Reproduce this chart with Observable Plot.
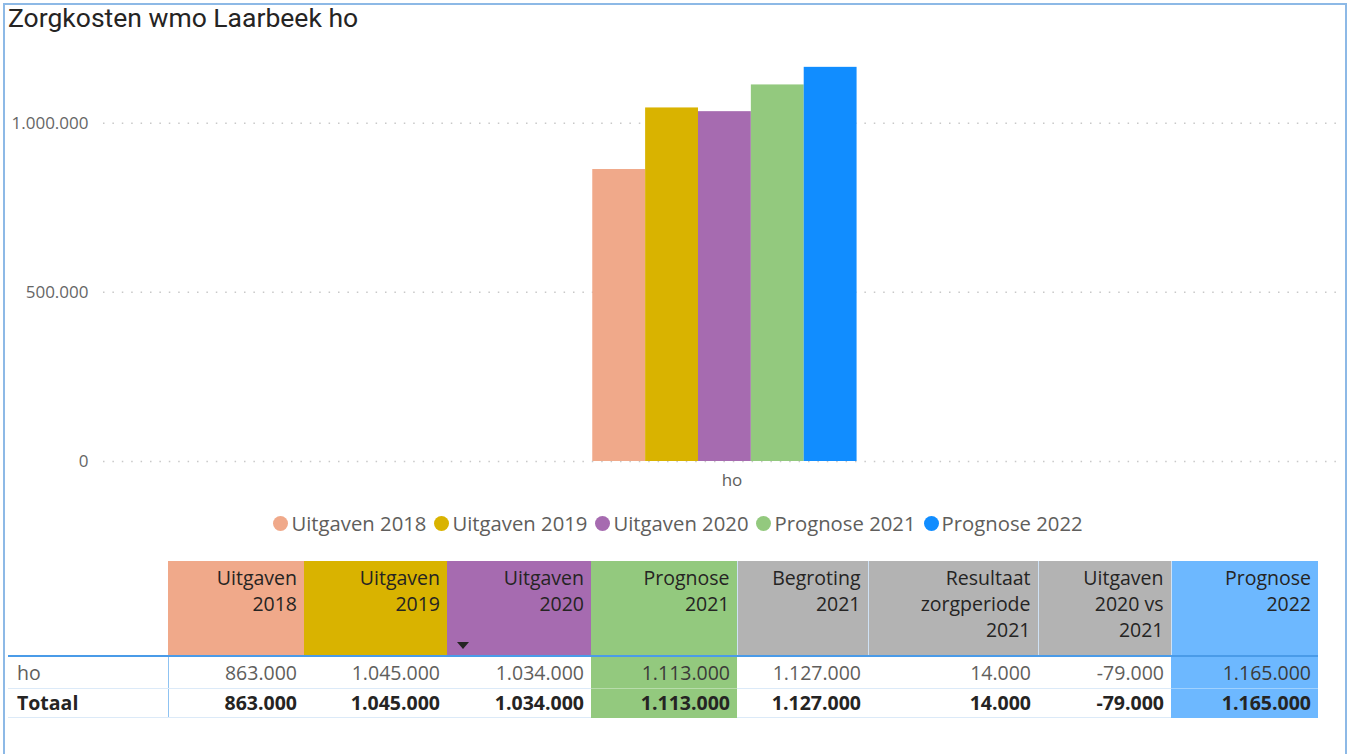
<!DOCTYPE html>
<html>
<head>
<meta charset="utf-8">
<script src="https://cdn.jsdelivr.net/npm/d3@7"></script>
<script src="https://cdn.jsdelivr.net/npm/@observablehq/plot@0.6"></script>
<style>
  html, body { margin: 0; padding: 0; background: #fff; }
  body { width: 1348px; height: 754px; overflow: hidden; position: relative; font-family: "Open Sans", sans-serif; }
  #frame { position: absolute; left: 3px; top: 3px; width: 1344px; height: 780px; border: 2px solid #8DB9E6; box-sizing: border-box; pointer-events: none; }
  #title { position: absolute; left: 8px; top: 2px; font-family: Roboto, sans-serif; font-size: 26.5px; color: #252423; white-space: nowrap; }
  #chart { position: absolute; left: 0; top: 40px; }
  #legend { position: absolute; left: 4px; width: 1348px; top: 510px; height: 26px; display: flex; justify-content: center; align-items: center; font-size: 20.3px; color: #605E5C; white-space: nowrap; }
  #legend .item { display: flex; align-items: center; margin: 0 4px; }
  #legend .dot { width: 15px; height: 15px; border-radius: 50%; margin-right: 3px; }
  #tbl { position: absolute; left: 8px; top: 561px; border-collapse: collapse; table-layout: fixed; font-size: 19.5px; line-height: 26px; }
  #tbl th, #tbl td { padding: 0 7px 0 0; text-align: right; white-space: nowrap; overflow: visible; }
  #tbl th { height: 95px; vertical-align: top; padding-top: 4px; font-weight: normal; color: #252423; border-bottom: 2px solid #4A9BE8; position: relative; box-sizing: border-box; }
  #tbl td { color: #605E5C; }
  #tbl tr.r1 td { height: 30px; padding-top: 1px; border-bottom: 1px solid #DCEAF8; }
  #tbl tr.r2 td { height: 28px; border-bottom: 1px solid #DCEAF8; font-weight: bold; color: #252423; }
  #tbl td.rowhead { text-align: left; padding-left: 9px; border-right: 1px solid #8FC3F2; }
  #tbl tr.r1 td.colored { color: #3B3A39; }
  .sortarrow { position: absolute; left: 10px; bottom: 6px; width: 0; height: 0; border-left: 6px solid transparent; border-right: 6px solid transparent; border-top: 7px solid #252423; }
</style>
</head>
<body>
<div id="title"></div>
<div id="chart"></div>
<div id="legend"></div>
<table id="tbl"></table>
<div id="frame"></div>
<script>
// ---- Data ----
const chartTitle = "Zorgkosten wmo Laarbeek ho";
const categories = ["ho"];
const series = ["Uitgaven 2018", "Uitgaven 2019", "Uitgaven 2020", "Prognose 2021", "Prognose 2022"];
const seriesValues = [863000, 1045000, 1034000, 1113000, 1165000];
const seriesColors = ["#F0A98A", "#D9B300", "#A66BB0", "#93C97E", "#118DFF"];
const yTicks = [0, 500000, 1000000];

const tableHeaders = [["Uitgaven", "2018"], ["Uitgaven", "2019"], ["Uitgaven", "2020"], ["Prognose", "2021"], ["Begroting", "2021"], ["Resultaat", "zorgperiode", "2021"], ["Uitgaven", "2020 vs", "2021"], ["Prognose", "2022"]];
const tableHeaderColors = ["#F0A98A", "#D9B300", "#A66BB0", "#93C97E", "#B3B3B3", "#B3B3B3", "#B3B3B3", "#6DB8FF"];
const tableCellColors = [null, null, null, "#93C97E", null, null, null, "#6DB8FF"];
const tableRowLabels = ["ho", "Totaal"];
const tableRowHo = [863000, 1045000, 1034000, 1113000, 1127000, 14000, -79000, 1165000];
const tableRowTotaal = [863000, 1045000, 1034000, 1113000, 1127000, 14000, -79000, 1165000];
const tableColWidths = [160, 136, 143, 144, 146, 131, 170, 133, 147];

// ---- Formatting ----
const nl = d3.formatLocale({decimal: ",", thousands: ".", grouping: [3], currency: ["€", ""], minus: "-"});
const fmt = nl.format(",d");

// ---- Title ----
document.getElementById("title").textContent = chartTitle;

// ---- Chart ----
const data = series.map((s, i) => ({category: categories[0], series: s, value: seriesValues[i]}));
const chart = Plot.plot({
  width: 1348,
  height: 470,
  marginTop: 15,
  marginBottom: 49,
  marginLeft: 103,
  marginRight: 8,
  style: {fontFamily: "Open Sans, sans-serif", fontSize: "17px", color: "#666666", background: "transparent"},
  x: {domain: series, paddingInner: 0, paddingOuter: 9.2, align: 0.503, round: false, axis: null},
  y: {domain: [0, 1200000], axis: null},
  color: {domain: series, range: seriesColors},
  marks: [
    Plot.ruleY(yTicks, {stroke: "#C8C8C8", strokeWidth: 1.5, strokeDasharray: "1.5,7.9"}),
    Plot.barY(data, {x: "series", y: "value", fill: "series"}),
    Plot.axisY(yTicks, {tickSize: 0, tickPadding: 15, tickFormat: fmt, fill: "#666666", fontSize: 17, label: null}),
    Plot.text(categories, {frameAnchor: "bottom", text: d => d, dx: 10, dy: 19, lineAnchor: "middle", fill: "#605E5C", fontSize: 17})
  ]
});
document.getElementById("chart").appendChild(chart);

// ---- Legend ----
const legend = d3.select("#legend");
series.forEach((s, i) => {
  const it = legend.append("div").attr("class", "item");
  it.append("div").attr("class", "dot").style("background", seriesColors[i]);
  it.append("span").text(s);
});

// ---- Table ----
const tbl = d3.select("#tbl");
const cg = tbl.append("colgroup");
tableColWidths.forEach(w => cg.append("col").style("width", w + "px"));
tbl.style("width", d3.sum(tableColWidths) + "px");
const hr = tbl.append("tr");
hr.append("th").style("background", "#fff");
tableHeaders.forEach((lines, i) => {
  const th = hr.append("th").style("background", tableHeaderColors[i])
    .style("border-left", i >= 4 ? "1px solid #CFE2F5" : null);
  th.html(lines.map(l => l.replace(/&/g, "&amp;")).join("<br>"));
  if (i === 2) th.append("span").attr("class", "sortarrow");
});
[tableRowHo, tableRowTotaal].forEach((row, r) => {
  const tr = tbl.append("tr").attr("class", r === 0 ? "r1" : "r2");
  tr.append("td").attr("class", "rowhead").text(tableRowLabels[r]);
  row.forEach((v, i) => {
    const td = tr.append("td").text(fmt(v));
    if (tableCellColors[i]) {
      td.classed("colored", true).style("background", tableCellColors[i]).style("border-bottom-color", "rgba(255,255,255,0.35)");
      if (r === 1) td.style("border-bottom-color", tableCellColors[i]);
    }
  });
});
</script>
</body>
</html>
